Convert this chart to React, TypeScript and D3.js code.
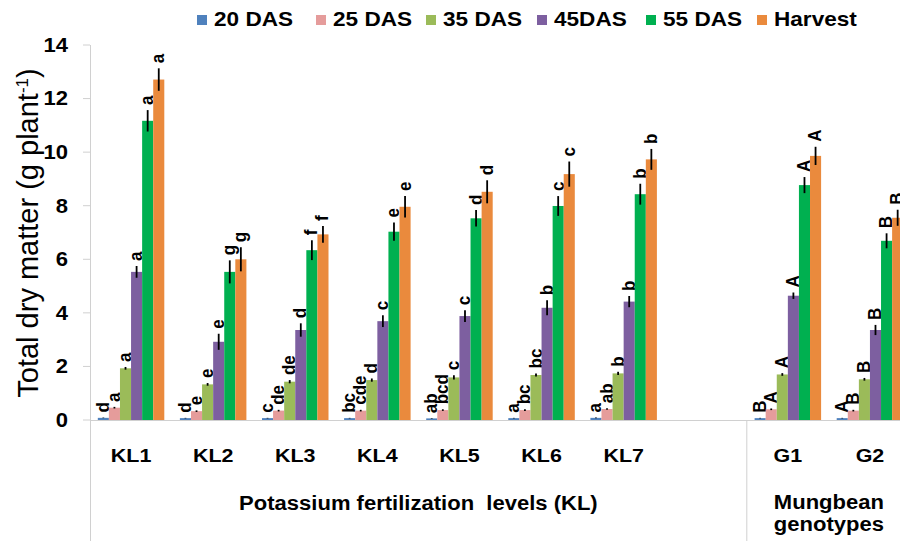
import React from 'react';
import * as d3 from 'd3';

const categories = ['KL1', 'KL2', 'KL3', 'KL4', 'KL5', 'KL6', 'KL7', '', 'G1', 'G2'];
const seriesNames = ['20 DAS', '25 DAS', '35 DAS', '45DAS', '55 DAS', 'Harvest'];
const colors = ['#4F81BD', '#E59C9B', '#9BBB59', '#7D5FA0', '#00B050', '#EA8A3D'];

// mean values (g plant-1), blank slot = null
const das20 = [0.08, 0.07, 0.07, 0.07, 0.06, 0.07, 0.08, null, 0.07, 0.07];
const das25 = [0.46, 0.33, 0.35, 0.35, 0.37, 0.37, 0.41, null, 0.4, 0.35];
const das35 = [1.93, 1.33, 1.43, 1.49, 1.59, 1.68, 1.74, null, 1.7, 1.52];
const das45 = [5.53, 2.92, 3.36, 3.69, 3.88, 4.19, 4.42, null, 4.64, 3.36];
const das55 = [11.17, 5.53, 6.34, 7.03, 7.53, 7.99, 8.43, null, 8.77, 6.69];
const harvest = [12.71, 6.0, 6.93, 7.96, 8.52, 9.18, 9.73, null, 9.86, 7.55];

// error bars
const err20 = [0.01, 0.01, 0.01, 0.01, 0.01, 0.01, 0.01, null, 0.01, 0.01];
const err25 = [0.03, 0.03, 0.03, 0.03, 0.03, 0.03, 0.03, null, 0.03, 0.03];
const err35 = [0.05, 0.05, 0.06, 0.06, 0.08, 0.06, 0.06, null, 0.05, 0.05];
const err45 = [0.22, 0.3, 0.25, 0.22, 0.22, 0.28, 0.21, null, 0.12, 0.19];
const err55 = [0.4, 0.43, 0.37, 0.34, 0.31, 0.37, 0.39, null, 0.3, 0.28];
const errH = [0.42, 0.45, 0.31, 0.4, 0.43, 0.47, 0.39, null, 0.34, 0.3];

// significance letters
const let20 = ['d', 'd', 'c', 'bc', 'ab', 'a', 'a', '', 'B', 'A'];
const let25 = ['a', 'e', 'de', 'cde', 'bcd', 'bc', 'ab', '', 'A', 'B'];
const let35 = ['a', 'e', 'de', 'd', 'c', 'bc', 'b', '', 'A', 'B'];
const let45 = ['a', 'e', 'd', 'c', 'c', 'b', 'b', '', 'A', 'B'];
const let55 = ['a', 'g', 'f', 'e', 'd', 'c', 'b', '', 'A', 'B'];
const letH = ['a', 'g', 'f', 'e', 'd', 'c', 'b', '', 'A', 'B'];

const yTicks = [0, 2, 4, 6, 8, 10, 12, 14];

const values = [das20, das25, das35, das45, das55, harvest];
const errors = [err20, err25, err35, err45, err55, errH];
const letters = [let20, let25, let35, let45, let55, letH];

const W = 900;
const H = 541;
const SX = 1.13; // the original picture is a bit wider than tall
const font = "'Liberation Sans', Arial, sans-serif";

const legendX = [197, 316, 426, 537, 646, 757];

const App = () => {
  const step = 82.1;
  const x = d3
    .scaleBand()
    .domain(categories.map((c, i) => String(i)))
    .range([90, 90 + step * categories.length])
    .paddingInner(0.19)
    .paddingOuter(0.095);
  const xs = d3.scaleBand().domain(seriesNames).range([0, x.bandwidth()]);
  const y = d3.scaleLinear().domain([0, 14]).range([420, 45]);

  const bw = xs.bandwidth();
  const center = (i) => (x(String(i)) ?? 0) + x.bandwidth() / 2;

  return (
    <svg
      width={W}
      height={H}
      style={{ position: 'absolute', left: 0, top: 0, background: '#fff' }}
      fontFamily={font}
    >
      <rect width={W} height={H} fill="#fff" />

      {/* legend */}
      {seriesNames.map((s, i) => (
        <g key={s}>
          <rect x={legendX[i]} y={15} width={10} height={10} fill={colors[i]} />
          <g transform={`translate(${legendX[i] + 17},26) scale(${SX},1)`}>
            <text fontSize={20} fontWeight="bold">{s}</text>
          </g>
        </g>
      ))}

      {/* y axis */}
      <line x1={90.5} x2={90.5} y1={45} y2={H} stroke="#d0d0d0" />
      {yTicks.map((t) => (
        <g key={t}>
          <line x1={83} x2={90} y1={y(t)} y2={y(t)} stroke="#d0d0d0" />
          <g transform={`translate(68,${y(t)}) scale(${SX},1)`}>
            <text fontSize={19.5} fontWeight="bold" textAnchor="end" dy="0.35em">{t}</text>
          </g>
        </g>
      ))}
      <g transform={`translate(38,233) rotate(-90)`}>
        <text fontSize={29} textAnchor="middle">
          Total dry matter (g plant<tspan fontSize={17} dy={-10}>-1</tspan>
          <tspan dy={10}>)</tspan>
        </text>
      </g>

      {/* x axis */}
      <line x1={90} x2={W} y1={420.5} y2={420.5} stroke="#d0d0d0" />
      <line x1={90 + step * 8} x2={90 + step * 8} y1={420} y2={H} stroke="#d0d0d0" />
      {categories.map((c, i) => (
        <g key={i} transform={`translate(${center(i)},462) scale(${SX},1)`}>
          <text fontSize={19} fontWeight="bold" textAnchor="middle">{c}</text>
        </g>
      ))}
      <g transform={`translate(${90 + step * 4},510) scale(${SX},1)`}>
        <text fontSize={19.5} fontWeight="bold" textAnchor="middle" style={{ whiteSpace: 'pre' }}>
          {'Potassium fertilization  levels (KL)'}
        </text>
      </g>
      <g transform={`translate(${90 + step * 9},509) scale(${SX},1)`}>
        <text fontSize={19.5} fontWeight="bold" textAnchor="middle">
          <tspan x={0}>Mungbean</tspan>
          <tspan x={0} dy={22}>genotypes</tspan>
        </text>
      </g>

      {/* bars */}
      {seriesNames.map((s, si) => (
        <g key={s}>
          {values[si].map((v, i) => {
            if (v == null) return null;
            const bx = (x(String(i)) ?? 0) + (xs(s) ?? 0);
            const cx = bx + bw / 2;
            const e = errors[si][i] ?? 0;
            return (
              <g key={i}>
                <rect x={bx} y={y(v)} width={bw} height={y(0) - y(v)} fill={colors[si]} />
                <line x1={cx} x2={cx} y1={y(v - e)} y2={y(v + e)} stroke="#000" strokeWidth={1.8} />
                <g transform={`translate(${cx + 5.5},${y(v + e) - 5}) scale(${SX},1) rotate(-90)`}>
                  <text fontSize={17} fontWeight="bold">{letters[si][i]}</text>
                </g>
              </g>
            );
          })}
        </g>
      ))}
    </svg>
  );
};

export default App;
